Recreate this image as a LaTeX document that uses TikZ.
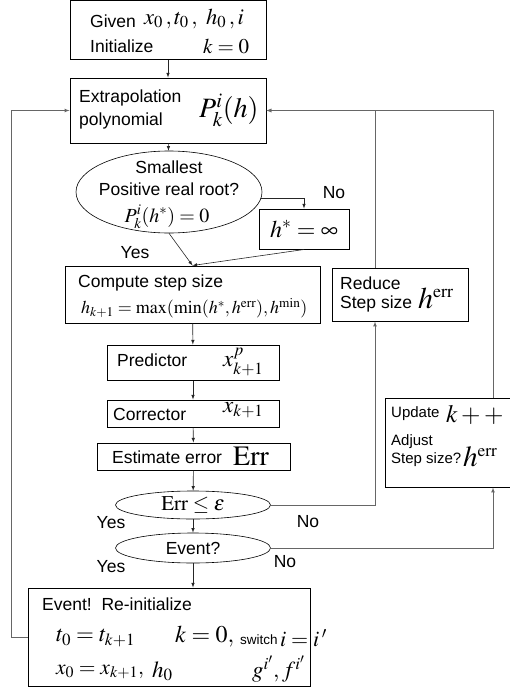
\documentclass[tikz,border=0pt]{standalone}
\usepackage{amsmath}
\usepackage{mathptmx}
\usepackage[no-math]{fontspec}
\setmainfont{Liberation Sans}
\usetikzlibrary{shapes.geometric, arrows}
\newcommand{\fsz}[1]{\fontsize{#1}{#1}\selectfont}

\begin{document}
\begin{tikzpicture}[x=1pt,y=-1pt,>=latex]
    \tikzstyle{arrow} = [->,draw=black!85,line width=0.6pt]
    \tikzstyle{loop} = [->,draw=black!60,line width=0.7pt]
    \tikzstyle{block} = [rectangle, draw=black, line width=1pt, inner sep=0pt]
    \tikzstyle{decision} = [ellipse, draw=black, line width=0.6pt, inner sep=0pt]
    \tikzstyle{lbl} = [inner sep=0pt, anchor=west, font=\fsz{17.5}]
    \useasboundingbox (0,0) rectangle (510,693);

    % main column
    \node[block, minimum width=196pt, minimum height=59pt] (init) at (168,30.5) {};
    \node[block, minimum width=196pt, minimum height=65pt] (poly) at (168,110.5) {};
    \node[decision, minimum width=186pt, minimum height=82pt] (root) at (169,192) {};
    \node[block, minimum width=90pt, minimum height=40pt, font=\fsz{24}] (hinf) at (304,229) {$h^*=\infty$};
    \node[block, minimum width=255pt, minimum height=57pt] (comp) at (192.5,294.5) {};
    \node[block, minimum width=136pt, minimum height=53pt] (red) at (400,294.5) {};
    \node[block, minimum width=172pt, minimum height=35pt] (pred) at (193,362.5) {};
    \node[block, minimum width=172pt, minimum height=27pt] (corr) at (193,413.5) {};
    \node[block, minimum width=193pt, minimum height=27pt] (est) at (193.5,456.5) {};
    \node[decision, minimum width=155pt, minimum height=28pt] (chk) at (193,505) {};
    \node[decision, minimum width=155pt, minimum height=30pt] (evt) at (193,548) {};
    \node[block, minimum width=230pt, minimum height=89pt] (upd) at (500,442.5) {};
    \node[block, minimum width=282pt, minimum height=98pt] (reinit) at (169,637) {};

    % texts
    \node[lbl] (given) at (90,21) {Given};
    \node[lbl, font=\fsz{22.5}] (given-m) at (144,19) {$x_0\,,t_0\,,\ h_0\,,i$};
    \node[lbl] (initz) at (90,46) {Initialize};
    \node[lbl, font=\fsz{21}] (initz-m) at (203,46) {$k=0$};

    \node[lbl] (extra) at (79,98) {Extrapolation};
    \node[lbl] (polyn) at (79,121) {polynomial};
    \node[lbl, font=\fsz{28}] (poly-m) at (199,110) {$P_k^i(h)$};

    \node[lbl, anchor=center] (root-t1) at (169,167) {Smallest};
    \node[lbl, anchor=center] (root-t2) at (169,189) {Positive real root?};
    \node[lbl, anchor=center, font=\fsz{20}] (root-m) at (167,217) {$P_k^i(h^*)=0$};

    \node[lbl] (comp-t) at (78,283) {Compute step size};
    \node[lbl, font=\fsz{18}] (comp-m) at (81,308) {$h_{k+1}=\max(\min(h^*,h^{\mathrm{err}}),h^{\min})$};

    \node[lbl] (red-t1) at (340,283) {Reduce};
    \node[lbl] (red-t2) at (340,304) {Step size};
    \node[lbl, font=\fsz{30}] (red-m) at (418,298) {$h^{\scriptscriptstyle\mathrm{err}}$};

    \node[lbl] (pred-t) at (117,360) {Predictor};
    \node[lbl, font=\fsz{23}] (pred-m) at (223,362) {$x_{k+1}^p$};
    \node[lbl] (corr-t) at (113,414) {Corrector};
    \node[lbl, font=\fsz{23}] (corr-m) at (223,410) {$x_{k+1}$};
    \node[lbl] (est-t) at (112,457) {Estimate error};
    \node[lbl, font=\fsz{28}] (est-m) at (233,456) {$\mathrm{Err}$};

    \node[lbl, anchor=center, font=\fsz{21}] (chk-m) at (193,505) {$\mathrm{Err}\le\varepsilon$};
    \node[lbl, anchor=center] (evt-t) at (193,548) {Event?};

    \node[lbl, font=\fsz{15}] (upd-t1) at (391,414) {Update};
    \node[lbl, font=\fsz{25}] (upd-m1) at (446,415) {$k++$};
    \node[lbl, font=\fsz{15}] (upd-t2) at (391,442) {Adjust};
    \node[lbl, font=\fsz{15}] (upd-t3) at (391,460) {Step size?};
    \node[lbl, font=\fsz{29}] (upd-m2) at (463,457) {$h^{\scriptscriptstyle\mathrm{err}}$};

    \node[lbl] (ev-t) at (42,604) {Event!\ \ Re-initialize};
    \node[lbl, font=\fsz{23}] (ev-m1) at (56,638) {$t_0=t_{k+1}$};
    \node[lbl, font=\fsz{24}] (ev-m2) at (175,637) {$k=0,$};
    \node[lbl, font=\fsz{13.5}] (ev-sw) at (240,640) {switch};
    \node[lbl, font=\fsz{22}] (ev-m3) at (280,638) {$i=i\,'$};
    \node[lbl, font=\fsz{21.5}] (ev-m4) at (56,672) {$x_0=x_{k+1},$};
    \node[lbl, font=\fsz{23}] (ev-m5) at (152,671) {$h_0$};
    \node[lbl, font=\fsz{23}] (ev-m6) at (252,669) {$g^{i'},f^{i'}$};

    % branch labels
    \node[lbl, anchor=center] (no1) at (334,193) {No};
    \node[lbl, anchor=center] (yes1) at (135,253) {Yes};
    \node[lbl, anchor=center] (yes2) at (111,523) {Yes};
    \node[lbl, anchor=center] (no2) at (308,522) {No};
    \node[lbl, anchor=center] (yes3) at (111,567) {Yes};
    \node[lbl, anchor=center] (no3) at (285,562) {No};

    % connectors
    \draw [arrow] (init) -- (poly);
    \draw [arrow] (poly) -- (root);
    \draw [arrow] (root.-4) -| (hinf.north);
    \draw [arrow] (root.south) -- (comp.north);
    \draw [arrow] (hinf.south) -- (comp.north);
    \draw [arrow] (comp) -- (pred);
    \draw [arrow] (pred) -- (corr);
    \draw [arrow] (corr) -- (est);
    \draw [arrow] (est) -- (chk);
    \draw [arrow] (chk) -- (evt);
    \draw [arrow] (evt.south) -- (evt.south |- reinit.north);
    \draw [loop] (chk.east) -| ([xshift=-25pt]red.south);
    \draw [loop] (evt.east) -| ([xshift=-7pt]upd.south);
    \draw [loop] ([xshift=-25pt]red.north) |- (poly.east);
    \draw [loop] ([xshift=-7pt]upd.north) |- (poly.east);
    \draw [loop] (reinit.west) -- ++(-16,0) |- (poly.west);
\end{tikzpicture}
\end{document}
